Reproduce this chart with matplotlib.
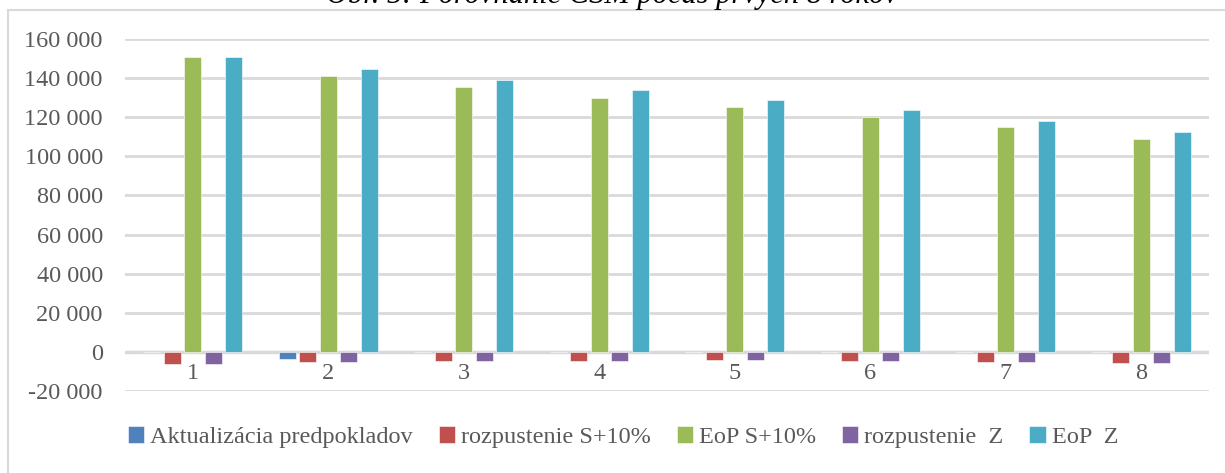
import matplotlib.pyplot as plt
import numpy as np
from matplotlib.patches import Rectangle

# values
years = ["1", "2", "3", "4", "5", "6", "7", "8"]
series_names = ["Aktualizácia predpokladov", "rozpustenie S+10%", "EoP S+10%",
                "rozpustenie  Z", "EoP  Z"]
aktualizacia = [0, -3700, 0, 0, 0, 0, 0, 0]
rozpustenie_s10 = [-6000, -5300, -4800, -4500, -4200, -4700, -5200, -5900]
eop_s10 = [151000, 141100, 135400, 130000, 125300, 120100, 114900, 108900]
rozpustenie_z = [-6000, -5300, -4800, -4500, -4300, -4800, -5300, -5900]
eop_z = [151000, 144900, 139100, 133900, 128900, 123800, 118100, 112400]
y_ticks = [-20000, 0, 20000, 40000, 60000, 80000, 100000, 120000, 140000, 160000]

colors = ["#4F81BD", "#C0504D", "#9BBB59", "#8064A2", "#4BACC6"]
txt_color = "#595959"
grid_color = "#D9D9D9"

plt.rcParams["font.family"] = ["Liberation Serif", "DejaVu Serif"]


def fmt(v):
    return f"{v:,.0f}".replace(",", " ")


def main():
    fig = plt.figure(figsize=(12.25, 4.73), dpi=100)
    ax = fig.add_axes([125 / 1225, 1 - 391 / 473, (1209 - 125) / 1225, (391 - 39) / 473])

    data = [aktualizacia, rozpustenie_s10, eop_s10, rozpustenie_z, eop_z]
    x = np.arange(len(years))
    slot, width = 0.152, 0.125
    for i, (name, vals) in enumerate(zip(series_names, data)):
        ax.bar(x + (i - 2) * slot, vals, width, color=colors[i], label=name,
               edgecolor="white", linewidth=0.4, zorder=3)

    ax.set_xlim(-0.5, len(years) - 0.5)
    ax.set_ylim(-20000, 160000)
    ax.set_yticks(y_ticks)
    ax.set_yticklabels([fmt(v) for v in y_ticks])
    ax.set_xticks(x)
    ax.set_xticklabels(years)
    ax.tick_params(axis="both", length=0, labelsize=17.5, colors=txt_color)
    ax.tick_params(axis="y", pad=16)
    ax.tick_params(axis="x", pad=8)
    ax.spines["bottom"].set_position(("data", 0))
    ax.spines["bottom"].set_visible(False)
    for s in ["top", "right", "left"]:
        ax.spines[s].set_visible(False)
    ax.grid(axis="y", color=grid_color, linewidth=2, zorder=0)
    ax.axhline(0, color=grid_color, linewidth=2.5, zorder=2)

    fig.legend(loc="center", bbox_to_anchor=(623 / 1225, 1 - 437 / 473), ncol=5,
               frameon=False, fontsize=17.5, labelcolor=txt_color,
               handlelength=0.68, handleheight=0.68, handletextpad=0.25,
               columnspacing=1.05)

    # chart-area border, runs off the right and bottom edges like the reference
    fig.patches.append(Rectangle((8 / 1225, -0.1), 1.2, 1 - 10 / 473 + 0.1,
                                 transform=fig.transFigure, fill=False,
                                 edgecolor=grid_color, linewidth=1.5))
    fig.text(612 / 1225, 1 - 3 / 473, "Obr. 5: Porovnanie CSM počas prvých 8 rokov",
             ha="center", va="baseline", style="italic", fontsize=22, color="black")

    fig.savefig("out.png", dpi=100)


if __name__ == "__main__":
    main()
